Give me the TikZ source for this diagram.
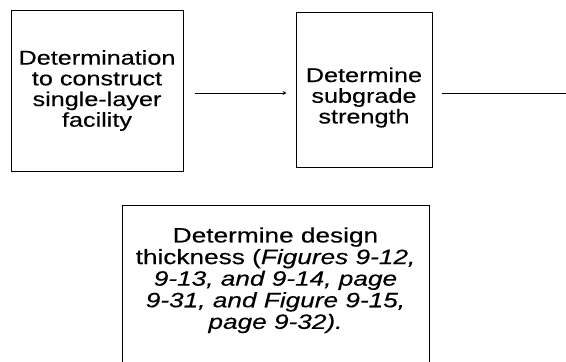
\documentclass[tikz,border=0pt]{standalone}
\usepackage{fontspec}
\setmainfont{Liberation Sans}[FakeStretch=1.26, FakeBold=0.3]
\usetikzlibrary{positioning}
\tikzset{
	boxA/.style={
		draw, line width=0.8pt, align=center, inner sep=0pt,
		font={\fontsize{20}{20.7}\selectfont}
	},
	>=stealth,
}

\begin{document}
\begin{tikzpicture}[x=1pt, y=-1pt]
\useasboundingbox (0,0) rectangle (566,362);
\clip (0,0) rectangle (566,362);
\node [boxA, minimum width=172pt, minimum height=161pt] (start) at (97,90.5)
  {Determination\\to construct\\single-layer\\facility};
\node [boxA, minimum width=136pt, minimum height=155pt, text height=72pt] (subgrade) at (364,89.5)
  {Determine\\subgrade\\strength};
\node [boxA, font={\fontsize{20.8}{21.6}\selectfont}, minimum width=307pt, anchor=north,
  inner ysep=22pt, text depth=60pt] (thick) at (275.5,205)
  {Determine design\\thickness (\textit{Figures 9-12,}\\\textit{9-13, and 9-14, page}\\
   \textit{9-31, and Figure 9-15,}\\\textit{page 9-32).}};
\coordinate (out) at (566,93);
\draw [->, line width=0.8pt, shorten <=12pt, shorten >=9pt] (start.east |- 0,93) -- (subgrade.west |- 0,93);
\draw [line width=0.8pt, shorten <=10pt] (subgrade.east |- out) -- (out);
\end{tikzpicture}
\end{document}
